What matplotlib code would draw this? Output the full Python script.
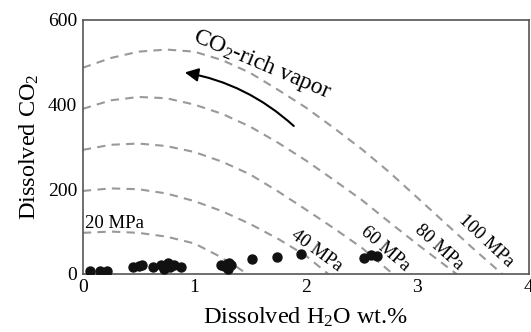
import numpy as np
import matplotlib
matplotlib.use('Agg')
import matplotlib.pyplot as plt

plt.rcParams['font.family'] = ['Liberation Serif', 'DejaVu Serif']
plt.rcParams['mathtext.fontset'] = 'custom'
plt.rcParams['mathtext.rm'] = 'Liberation Serif'
plt.rcParams['mathtext.it'] = 'Liberation Serif:italic'

# isobars (H2O wt.%, CO2)
iso_x_100 = [0, 0.25, 0.5, 0.75, 1.0, 1.25, 1.5, 1.75, 2.0, 2.25, 2.5, 2.75, 3.0, 3.25, 3.5, 3.76]
iso_y_100 = [487, 510, 525, 530, 525, 505, 475, 435, 393, 345, 295, 240, 180, 120, 60, 0]
iso_x_80 = [0, 0.25, 0.5, 0.75, 1.0, 1.25, 1.5, 1.75, 2.0, 2.25, 2.5, 2.75, 3.0, 3.35]
iso_y_80 = [390, 410, 418, 415, 400, 378, 348, 310, 268, 222, 175, 122, 70, 0]
iso_x_60 = [0, 0.25, 0.5, 0.75, 1.0, 1.25, 1.5, 1.75, 2.0, 2.25, 2.5, 2.78]
iso_y_60 = [293, 305, 308, 302, 288, 265, 235, 195, 152, 108, 62, 0]
iso_x_40 = [0, 0.25, 0.5, 0.75, 1.0, 1.25, 1.5, 1.75, 2.0, 2.2]
iso_y_40 = [196, 202, 200, 190, 172, 148, 118, 83, 43, 0]
iso_x_20 = [0, 0.25, 0.5, 0.75, 1.0, 1.2, 1.35, 1.47]
iso_y_20 = [97, 100, 97, 88, 72, 45, 22, 0]

# melt inclusion data
h2o = [0.06, 0.15, 0.22, 0.45, 0.50, 0.53, 0.63, 0.70, 0.73, 0.76, 0.78, 0.82, 0.88,
       1.24, 1.27, 1.29, 1.31, 1.30, 1.33, 1.52, 1.74, 1.96, 2.52, 2.58, 2.64]
co2 = [6, 6, 8, 16, 18, 22, 16, 20, 12, 25, 16, 20, 16,
       20, 18, 24, 26, 12, 22, 35, 40, 47, 38, 45, 42]

fig = plt.figure(figsize=(5.31, 3.32), dpi=100)
ax = fig.add_axes([0.156, 0.175, 0.84, 0.765])

dash_kw = dict(color='#999999', lw=1.5, dashes=(4, 3))
for xs, ys in [(iso_x_100, iso_y_100), (iso_x_80, iso_y_80), (iso_x_60, iso_y_60),
               (iso_x_40, iso_y_40), (iso_x_20, iso_y_20)]:
    ax.plot(xs, ys, **dash_kw)

ax.scatter(h2o, co2, s=42, color='#111111', zorder=3)

# pressure labels
lab = dict(fontsize=13.5, ha='center', va='center')
ax.text(0.02, 120, '20 MPa', fontsize=13.5, ha='left', va='center')
ax.text(2.10, 55, '40 MPa', rotation=-36, **lab)
ax.text(2.71, 60, '60 MPa', rotation=-41, **lab)
ax.text(3.19, 62, '80 MPa', rotation=-42, **lab)
ax.text(3.62, 78, '100 MPa', rotation=-43, **lab)

# vapor arrow
ax.annotate('', xy=(0.89, 477), xytext=(1.91, 345),
            arrowprops=dict(arrowstyle='-|>', color='black', lw=1.5,
                            mutation_scale=20, connectionstyle='arc3,rad=0.15'))
ax.text(1.61, 494, 'CO$_2$-rich vapor', fontsize=17, rotation=-23,
        ha='center', va='center')

ax.set_xlim(0, 4)
ax.set_ylim(0, 600)
ax.set_xticks([0, 1, 2, 3, 4])
ax.set_yticks([0, 200, 400, 600])
ax.tick_params(length=0, labelsize=14, pad=4)
for sp in ax.spines.values():
    sp.set_color('#555555')
    sp.set_linewidth(1.2)

ax.set_xlabel('Dissolved H$_2$O wt.%', fontsize=17.5, labelpad=7)
ax.set_ylabel('Dissolved CO$_2$', fontsize=17.5, labelpad=5)

fig.savefig('out.png', dpi=100)
